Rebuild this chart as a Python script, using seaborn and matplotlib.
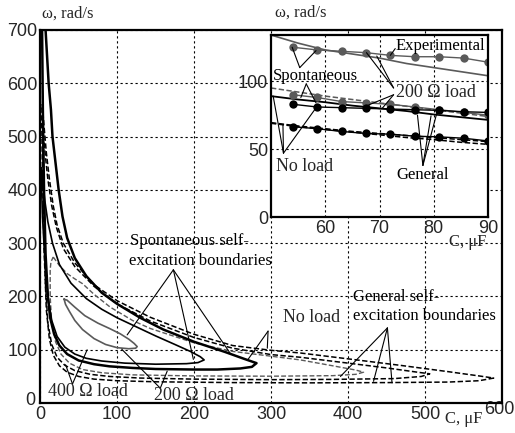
import matplotlib
matplotlib.use("Agg")
import matplotlib.pyplot as plt
import matplotlib.transforms as mtransforms
import seaborn as sns
import numpy as np

# ---------------- main chart data (C in uF, omega in rad/s) ----------------
# No load, spontaneous self-excitation boundary (closed loop: upper then lower)
nl_sp_up_x = [7, 9, 11, 14, 16, 20, 24, 29, 35, 45, 60, 80, 100, 130, 160, 200, 240, 265, 281]
nl_sp_up_y = [700, 650, 600, 550, 500, 450, 400, 350, 310, 272, 238, 207, 186, 160, 138, 115, 96, 83, 75]
nl_sp_lo_x = [281, 275, 260, 230, 200, 150, 120, 90, 70, 50, 35, 25, 18, 13, 10, 7, 5, 3.5, 2.5]
nl_sp_lo_y = [75, 68, 65, 63, 63, 64, 66, 69, 73, 80, 92, 108, 130, 160, 200, 280, 400, 550, 700]

# 200 ohm load, spontaneous boundary
r2_sp_up_x = [1.3, 3, 6, 10, 16, 25, 40, 60, 80, 100, 125, 150, 175, 195, 208, 213]
r2_sp_up_y = [441, 420, 380, 340, 300, 260, 225, 196, 176, 160, 143, 126, 110, 97, 87, 81]
r2_sp_lo_x = [213, 205, 190, 150, 110, 80, 60, 45, 32, 22, 15, 10, 6, 3, 1.5, 1.3]
r2_sp_lo_y = [81, 76, 74, 73, 75, 79, 84, 92, 105, 125, 155, 200, 270, 350, 420, 441]

# 400 ohm load, spontaneous boundary
r4_sp_x = [31, 35, 45, 58, 75, 90, 104, 115, 122, 126, 124, 115, 100, 85, 70, 55, 45, 38, 33, 31]
r4_sp_y = [195, 193, 180, 164, 150, 140, 130, 120, 112, 106, 103, 102, 104, 110, 121, 138, 155, 172, 185, 195]

# No load, general self-excitation boundary
nl_ge_up_x = [2.5, 3, 5, 8, 12, 17, 22, 30, 45, 70, 100, 143, 200, 250, 300, 338, 400, 467, 530, 570, 589]
nl_ge_up_y = [560, 555, 520, 470, 420, 370, 334, 300, 263, 222, 192, 161, 129, 108, 99, 94, 83, 71, 59, 51, 47]
nl_ge_lo_x = [589, 570, 530, 450, 350, 250, 150, 100, 70, 50, 35, 25, 17, 12, 8, 5, 3, 2, 2.5]
nl_ge_lo_y = [47, 42, 39.5, 38.5, 38, 38.5, 40, 42, 45, 50, 58, 70, 90, 120, 175, 290, 430, 530, 560]

# 200 ohm load, general boundary
r2_ge_up_x = [4, 4.5, 7, 10, 15, 21, 30, 45, 70, 100, 143, 200, 250, 300, 338, 400, 450, 490, 506]
r2_ge_up_y = [503, 500, 460, 420, 370, 330, 290, 256, 219, 186, 154, 123, 103, 91, 86, 75, 66, 58, 55]
r2_ge_lo_x = [506, 495, 460, 380, 300, 200, 130, 90, 65, 45, 32, 22, 15, 10, 7, 5, 3.5, 4]
r2_ge_lo_y = [55, 50, 46, 44.5, 44, 45, 47, 50, 54, 61, 71, 86, 110, 150, 220, 350, 470, 503]

# 400 ohm load, general boundary
r4_ge_up_x = [17, 25, 35, 45, 55, 70, 91, 120, 143, 200, 250, 300, 338, 380, 410, 420]
r4_ge_up_y = [274, 258, 243, 233, 224, 204, 180, 155, 140, 113, 97, 88, 81, 70, 62, 58]
r4_ge_lo_x = [420, 410, 380, 300, 200, 120, 80, 55, 38, 27, 20, 15, 13, 13, 14, 17]
r4_ge_lo_y = [58, 54, 51.5, 50.5, 51, 53, 57, 63, 75, 92, 115, 150, 200, 250, 265, 274]

# ---------------- inset data ----------------
ins_c = [54, 58.5, 63, 67.5, 72, 76.5, 81, 85.5, 90]
exp_200_hi = [125, 123, 122, 121, 119, 118, 118, 117, 114]
exp_200_lo = [90, 88, 85, 84, 83, 81, 79, 77, 75]
exp_nl_hi = [83, 81, 80.5, 80, 79.5, 79, 78.5, 77.5, 77]
exp_nl_lo = [66.5, 65, 63, 61.5, 61, 59.5, 59, 58, 56]

th_c = [50, 55, 60, 65, 70, 75, 80, 85, 90]
sp_200 = [134, 128, 123, 120, 117, 113, 110, 107, 104]
ge_200 = [95, 92, 89, 86.5, 84, 81.5, 79, 76.5, 74]
sp_nl = [89, 86.5, 84.5, 82, 80, 78, 75.5, 73.5, 71.5]
ge_nl_a = [69.5, 67, 65, 63, 61.5, 60, 58.5, 57, 55.5]
ge_nl_b = [69, 66.5, 64.5, 62.5, 60.5, 58.5, 57, 55, 53.5]

main_xticks = [0, 100, 200, 300, 400, 500, 600]
main_yticks = [0, 100, 200, 300, 400, 500, 600, 700]
ins_xticks = [60, 70, 80, 90]
ins_yticks = [0, 50, 100]

# ---------------- style ----------------
sns.set_style("white")
plt.rcParams['font.family'] = ['Liberation Sans', 'DejaVu Sans']
SERIF = ['Liberation Serif', 'DejaVu Serif']
GRAY = '#5a5a5a'
DASH = (0, (3.5, 1.6))

fig = plt.figure(figsize=(5.15, 4.33), dpi=100)
ax = fig.add_axes([0.078, 0.069, 0.897, 0.862])


def loop(a, xs, ys, color, ls, lw):
    sns.lineplot(x=xs, y=ys, sort=False, estimator=None, ax=a, color=color,
                 linestyle=ls, linewidth=lw, legend=False)


loop(ax, nl_ge_up_x + nl_ge_lo_x, nl_ge_up_y + nl_ge_lo_y, 'black', DASH, 1.1)
loop(ax, r2_ge_up_x + r2_ge_lo_x, r2_ge_up_y + r2_ge_lo_y, 'black', DASH, 1.1)
loop(ax, r4_ge_up_x + r4_ge_lo_x, r4_ge_up_y + r4_ge_lo_y, GRAY, DASH, 1.0)
loop(ax, nl_sp_up_x + nl_sp_lo_x, nl_sp_up_y + nl_sp_lo_y, 'black', '-', 1.8)
loop(ax, r2_sp_up_x + r2_sp_lo_x, r2_sp_up_y + r2_sp_lo_y, 'black', '-', 1.2)
loop(ax, r4_sp_x, r4_sp_y, GRAY, '-', 1.2)

ax.set_xlim(0, 600)
ax.set_ylim(0, 700)
ax.set_xticks(main_xticks)
ax.set_yticks(main_yticks)
ax.tick_params(length=0, labelsize=13, pad=2)
ax.grid(True, color='black', linestyle=(0, (2, 2.5)), linewidth=0.8)
for s in ax.spines.values():
    s.set_color('black')
    s.set_linewidth(1.6)
ax.set_xlabel('')
ax.set_ylabel('')

# nudge the last x tick label (600) left/up and the y "0" label up, as in the reference
fig.canvas.draw()
xl = ax.get_xticklabels()
xl[-1].set_transform(xl[-1].get_transform() +
                     mtransforms.ScaledTranslation(-0.03, 0.045, fig.dpi_scale_trans))
yl = ax.get_yticklabels()
yl[0].set_transform(yl[0].get_transform() +
                    mtransforms.ScaledTranslation(-0.02, 0.05, fig.dpi_scale_trans))

tkw = dict(family=SERIF, fontsize=12, color='black')
ax.text(117, 304, 'Spontaneous self-', ha='left', va='center', **tkw)
ax.text(116, 266, 'excitation boundaries', ha='left', va='center', **tkw)
ax.text(316, 161, 'No load', ha='left', va='center', family=SERIF, fontsize=13)
ax.text(406, 199, 'General self-', ha='left', va='center', **tkw)
ax.text(406, 163, 'excitation boundaries', ha='left', va='center', **tkw)
ax.text(10, 22, '400 \u03a9 load', ha='left', va='center', family=SERIF, fontsize=13)
ax.text(148, 15, '200 \u03a9 load', ha='left', va='center', family=SERIF, fontsize=13)

akw = dict(color='black', linewidth=0.8)
for vx, vy, ends in [
    (173, 250, [(113, 128), (199, 82), (247, 93)]),
    (296, 135, [(269, 80), (295, 103)]),
    (451, 141, [(390, 50), (433, 41), (457, 38)]),
    (42, 36, [(33, 72), (61, 100)]),
    (156, 28, [(106, 101), (165, 60)]),
]:
    for ex, ey in ends:
        ax.plot([vx, ex], [vy, ey], **akw)

fig.text(42 / 515, 1 - 14 / 433, '\u03c9, rad/s', ha='left', va='center', family=SERIF, fontsize=12)
fig.text(482 / 515, 1 - 419 / 433, 'C, \u03bcF', ha='right', va='center', family=SERIF, fontsize=12)

# ---------------- inset ----------------
ins = fig.add_axes([271 / 515, 1 - 217 / 433, (488 - 271) / 515, (217 - 35) / 433], zorder=5)
ins.set_facecolor('white')
sns.lineplot(x=th_c, y=sp_200, ax=ins, color=GRAY, linewidth=1.2, estimator=None)
sns.lineplot(x=th_c, y=ge_200, ax=ins, color=GRAY, linewidth=1.1, linestyle=DASH, estimator=None)
sns.lineplot(x=th_c, y=sp_nl, ax=ins, color='black', linewidth=1.3, estimator=None)
sns.lineplot(x=th_c, y=ge_nl_a, ax=ins, color='black', linewidth=1.1, linestyle=DASH, estimator=None)
sns.lineplot(x=th_c, y=ge_nl_b, ax=ins, color='black', linewidth=1.1, linestyle=DASH, estimator=None)
for ys, col in [(exp_200_hi, GRAY), (exp_200_lo, GRAY), (exp_nl_hi, 'black'), (exp_nl_lo, 'black')]:
    sns.lineplot(x=ins_c, y=ys, ax=ins, color=col, linewidth=1.0, marker='o',
                 markersize=6, markeredgewidth=0, estimator=None)

ins.set_xlim(50, 90)
ins.set_ylim(0, 134)
ins.set_xticks(ins_xticks)
ins.set_yticks(ins_yticks)
ins.tick_params(length=0, labelsize=13, pad=2)
ins.grid(True, color='black', linestyle=(0, (2, 2.5)), linewidth=0.8)
for s in ins.spines.values():
    s.set_color('black')
    s.set_linewidth(1.6)
ins.set_xlabel('')
ins.set_ylabel('')

ins.text(73, 126, 'Experimental', ha='left', va='center', **tkw)
ins.text(50.3, 103.5, 'Spontaneous', ha='left', va='center', **tkw)
ins.text(73, 92, '200 \u03a9 load', ha='left', va='center', family=SERIF, fontsize=13)
ins.text(51, 37, 'No load', ha='left', va='center', family=SERIF, fontsize=13)
ins.text(73.2, 31, 'General', ha='left', va='center', **tkw)

for vx, vy, ends in [
    (72.9, 124, [(72, 119)]),
    (55.3, 110, [(53.9, 125), (58.3, 122.5)]),
    (56.5, 98, [(55.5, 88), (58.3, 84)]),
    (52.3, 47, [(50.4, 89), (52.2, 68), (58.5, 81.5)]),
    (72.6, 95, [(67.6, 121), (69.5, 118.5)]),
    (72.6, 90, [(68, 82.5), (70.5, 80)]),
    (78, 38, [(77, 75), (79.5, 74.5), (80.8, 80)]),
]:
    for ex, ey in ends:
        ins.plot([vx, ex], [vy, ey], **akw)

fig.text(275 / 515, 1 - 13 / 433, '\u03c9, rad/s', ha='left', va='center', family=SERIF, fontsize=12)
fig.text(486 / 515, 1 - 242 / 433, 'C, \u03bcF', ha='right', va='center', family=SERIF, fontsize=12)

fig.savefig('out.png', dpi=100, facecolor='white')
